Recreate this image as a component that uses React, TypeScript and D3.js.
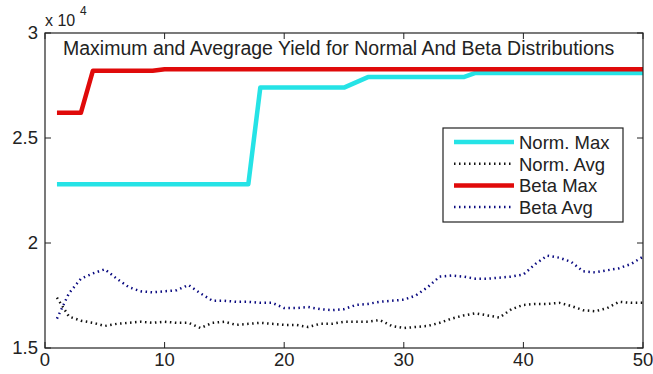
import React from 'react'
import * as d3 from 'd3'

const runs = d3.range(1, 51)

const normMax = [
  22800, 22800, 22800, 22800, 22800, 22800, 22800, 22800, 22800, 22800,
  22800, 22800, 22800, 22800, 22800, 22800, 22800, 27400, 27400, 27400,
  27400, 27400, 27400, 27400, 27400, 27650, 27900, 27900, 27900, 27900,
  27900, 27900, 27900, 27900, 27900, 28100, 28100, 28100, 28100, 28100,
  28100, 28100, 28100, 28100, 28100, 28100, 28100, 28100, 28100, 28100,
]

const normAvg = [
  17400, 16500, 16300, 16200, 16050, 16150, 16200, 16250, 16200, 16250,
  16200, 16200, 15950, 16200, 16250, 16100, 16150, 16200, 16150, 16100,
  16100, 16000, 16150, 16150, 16250, 16250, 16250, 16330, 16050, 15950,
  16000, 16050, 16200, 16400, 16550, 16650, 16550, 16450, 16850, 17050,
  17100, 17100, 17150, 17000, 16800, 16750, 16900, 17200, 17150, 17150,
]

const betaMax = [
  26200, 26200, 26200, 28200, 28200, 28200, 28200, 28200, 28200, 28270,
  28270, 28270, 28270, 28270, 28270, 28270, 28270, 28270, 28270, 28270,
  28270, 28270, 28270, 28270, 28270, 28270, 28270, 28270, 28270, 28270,
  28270, 28270, 28270, 28270, 28270, 28270, 28270, 28270, 28270, 28270,
  28270, 28270, 28270, 28270, 28270, 28270, 28270, 28270, 28270, 28270,
]

const betaAvg = [
  16400, 17600, 18300, 18550, 18750, 18300, 17900, 17700, 17650, 17700,
  17750, 18000, 17600, 17250, 17250, 17200, 17200, 17150, 17150, 16900,
  16900, 16950, 16850, 16800, 16850, 17050, 17100, 17200, 17250, 17300,
  17500, 17900, 18400, 18450, 18400, 18300, 18300, 18350, 18400, 18500,
  19000, 19400, 19300, 19100, 18650, 18600, 18700, 18800, 19000, 19350,
]

const xTicks = [0, 10, 20, 30, 40, 50]
const yTicks = [15000, 20000, 25000, 30000]

const series = [
  { name: 'Norm. Max', values: normMax, color: '#25e3e6', width: 4.5, dash: null },
  { name: 'Norm. Avg', values: normAvg, color: '#111', width: 2.5, dash: '1.5 3.5' },
  { name: 'Beta Max', values: betaMax, color: '#e00a0a', width: 4.5, dash: null },
  { name: 'Beta Avg', values: betaAvg, color: '#0a0a80', width: 2.5, dash: '1.5 3.5' },
]

const W = 653
const H = 374
const left = 45
const right = 643
const top = 33
const bottom = 348
const font = 'Arial, "Liberation Sans", sans-serif'

export default function App() {
  const x = d3.scaleLinear().domain([0, 50]).range([left, right])
  const y = d3.scaleLinear().domain([15000, 30000]).range([bottom, top])
  const line = d3.line<number>().x((_, i) => x(runs[i])).y(d => y(d))

  // legend box
  const lg = { x0: 443, y0: 128, x1: 623, y1: 222 }

  return (
    <div style={{ position: 'fixed', left: 0, top: 0 }}>
      <svg width={W} height={H} style={{ display: 'block', background: '#fff' }} fontFamily={font}>
        <rect x={0} y={0} width={W} height={H} fill="#fff" />

        {series.map(s => (
          <path key={s.name} d={line(s.values) || ''} fill="none" stroke={s.color}
            strokeWidth={s.width} strokeDasharray={s.dash || undefined} strokeLinejoin="round" />
        ))}

        <rect x={left} y={top} width={right - left} height={bottom - top} fill="none" stroke="#222" strokeWidth={1.2} />

        {xTicks.map(t => (
          <g key={'x' + t}>
            <line x1={x(t)} x2={x(t)} y1={bottom} y2={bottom - 6} stroke="#222" />
            <line x1={x(t)} x2={x(t)} y1={top} y2={top + 6} stroke="#222" />
            <text x={x(t)} y={366} fontSize={18.5} textAnchor="middle" fill="#222">{t}</text>
          </g>
        ))}
        {yTicks.map(t => (
          <g key={'y' + t}>
            <line x1={left} x2={left + 6} y1={y(t)} y2={y(t)} stroke="#222" />
            <line x1={right} x2={right - 6} y1={y(t)} y2={y(t)} stroke="#222" />
            <text x={38} y={y(t) + 6} fontSize={18.5} textAnchor="end" fill="#222">{d3.format('')(t / 10000)}</text>
          </g>
        ))}

        <text x={45} y={26} fontSize={16} fill="#222">x 10</text>
        <text x={80} y={15} fontSize={12} fill="#222">4</text>

        <text x={63} y={55} fontSize={19.5} fill="#222">Maximum and Avegrage Yield for Normal And Beta Distributions</text>

        <rect x={lg.x0} y={lg.y0} width={lg.x1 - lg.x0} height={lg.y1 - lg.y0} fill="#fff" stroke="#222" strokeWidth={1.2} />
        {series.map((s, i) => {
          const cy = 142 + i * 21.7
          return (
            <g key={'lg' + s.name}>
              <line x1={454} x2={514} y1={cy} y2={cy} stroke={s.color} strokeWidth={s.width}
                strokeDasharray={s.dash || undefined} />
              <text x={519} y={cy + 7} fontSize={18.5} fill="#222">{s.name}</text>
            </g>
          )
        })}
      </svg>
    </div>
  )
}
